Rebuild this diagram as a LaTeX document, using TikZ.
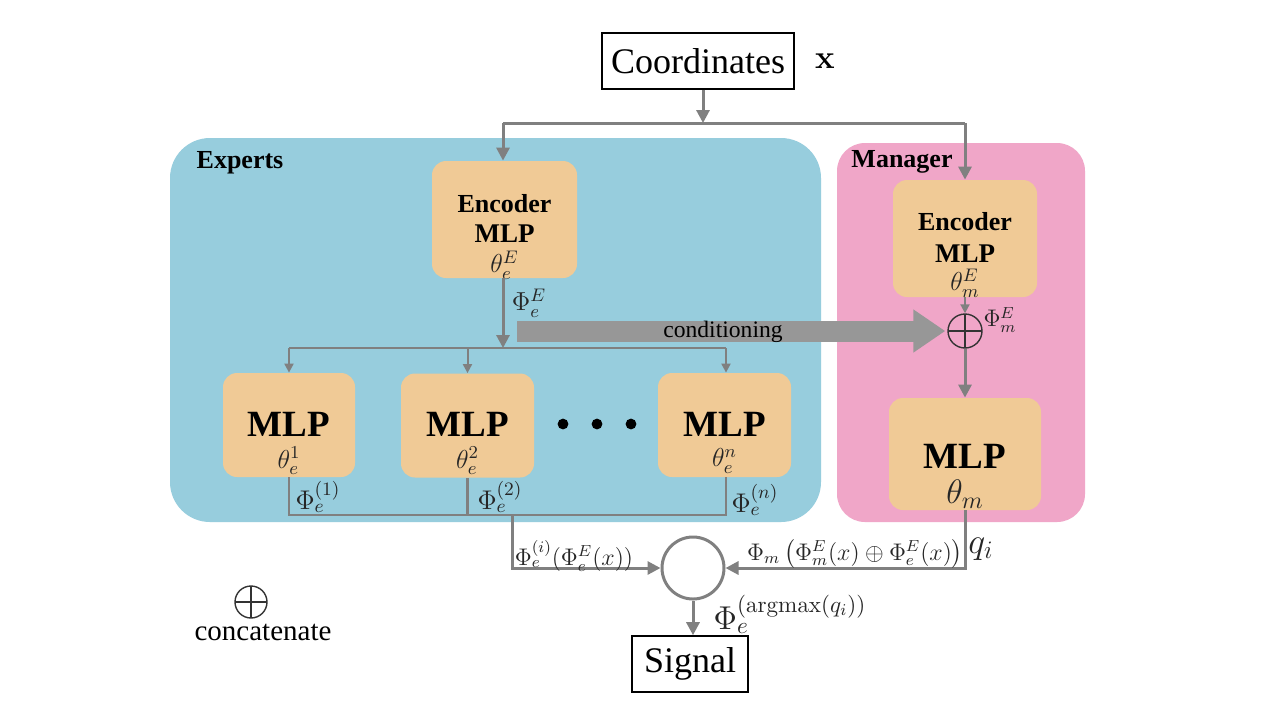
\RequirePackage{fix-cm}
\documentclass[tikz,border=0pt]{standalone}
\usepackage[no-math]{fontspec}
\setmainfont{Liberation Serif}
\usepackage{amsmath}
\usetikzlibrary{arrows.meta}
\definecolor{expbg}{HTML}{97CDDD}
\definecolor{mgrbg}{HTML}{F0A6C8}
\definecolor{boxc}{HTML}{F0CA96}
\definecolor{lin}{HTML}{808080}
\definecolor{condc}{HTML}{979797}
\newcommand{\myfs}[1]{\fontsize{#1}{#1}\selectfont}
\tikzset{
  obox/.style={fill=boxc, rounded corners=7pt, inner sep=0pt},
  framebox/.style={draw=black, line width=0.8pt, inner sep=0pt},
  ln/.style={draw=lin, line width=1.5pt},
  thinln/.style={draw=lin, line width=1.2pt},
  conn/.style={draw=lin, line width=1.5pt, -{Triangle[width=6.5pt,length=6.5pt]}},
  thinconn/.style={draw=lin, line width=1pt, -{Triangle[width=4.5pt,length=4.5pt]}},
  opl/.style={circle, draw=black!80, line width=0.7pt, inner sep=0pt,
    path picture={\draw[black!80, line width=0.7pt]
      (path picture bounding box.north) -- (path picture bounding box.south)
      (path picture bounding box.west) -- (path picture bounding box.east);}},
  mtxt/.style={text=black!85, inner sep=0pt},
}
\begin{document}
\begin{tikzpicture}[x=0.5pt,y=-0.5pt]
\fill[white] (0,0) rectangle (1280,720);
\useasboundingbox (0,0) rectangle (1280,720);
% background panels
\fill[expbg, rounded corners=20pt] (170,138) rectangle (821,522);
\fill[mgrbg, rounded corners=14pt] (837,143) rectangle (1085,522);
\node[inner sep=0pt, font=\bfseries\myfs{13}] (experts) at (240,163) {Experts};
\node[inner sep=0pt, font=\bfseries\myfs{13}] (manager) at (902,162) {Manager};

% top
\node[framebox, minimum width=96pt, minimum height=28pt, font=\myfs{18}] (coord) at (698,61) {Coordinates};
\node[inner sep=0pt, font=\myfs{16.5}] (xlab) at (825,61) {$\mathbf{x}$};
\coordinate (split) at (703,123);
\coordinate (tl) at (503,123);
\coordinate (tr) at (965,123);

% experts encoder
\node[obox, minimum width=72.5pt, minimum height=58.5pt] (encE) at (504.5,219.5) {};
\node[inner sep=0pt, font=\bfseries\myfs{13}] (encEa) at (504.5,204) {Encoder};
\node[inner sep=0pt, font=\bfseries\myfs{13.5}] (encEb) at (504.5,234) {MLP};
\node[mtxt, font=\myfs{13}] (encEc) at (504.5,265) {$\theta_e^E$};

% manager encoder
\node[obox, minimum width=72pt, minimum height=58.5pt] (encM) at (965,238.5) {};
\node[inner sep=0pt, font=\bfseries\myfs{13}] (encMa) at (965,222) {Encoder};
\node[inner sep=0pt, font=\bfseries\myfs{13.5}] (encMb) at (965,254) {MLP};
\node[mtxt, font=\myfs{13}] (encMc) at (965,283) {$\theta_m^E$};

% manager concat and MLP
\node[opl, minimum size=17pt] (oplM) at (965,331) {};
\node[mtxt, font=\myfs{12}] (phimE) at (1000,320) {$\Phi_m^E$};
\node[obox, minimum width=76pt, minimum height=56pt] (mlpM) at (965,454) {};
\node[inner sep=0pt, font=\bfseries\myfs{18.5}] (mlpMa) at (965,456) {MLP};
\node[mtxt, font=\myfs{17}] (mlpMb) at (965,494) {$\theta_m$};

% expert MLPs
\node[obox, minimum width=66pt, minimum height=52pt] (mlp1) at (289,425) {};
\node[inner sep=0pt, font=\bfseries\myfs{18.5}] (mlp1a) at (289,424) {MLP};
\node[mtxt, font=\myfs{13}] (mlp1b) at (289,461) {$\theta_e^1$};
\node[obox, minimum width=66.5pt, minimum height=52pt] (mlp2) at (467.5,425.5) {};
\node[inner sep=0pt, font=\bfseries\myfs{18.5}] (mlp2a) at (467.5,424) {MLP};
\node[mtxt, font=\myfs{13}] (mlp2b) at (467.5,461) {$\theta_e^2$};
\node[obox, minimum width=66.5pt, minimum height=52pt] (mlpn) at (724.5,425) {};
\node[inner sep=0pt, font=\bfseries\myfs{18.5}] (mlpna) at (724.5,424) {MLP};
\node[mtxt, font=\myfs{13}] (mlpnb) at (724.5,461) {$\theta_e^n$};
\fill (563,424) circle (2.7pt);
\fill (597,424) circle (2.7pt);
\fill (631,424) circle (2.7pt);

% coordinates for routing
\coordinate (dist) at (503,348);
\coordinate (d1) at (289,348);
\coordinate (d2) at (467.5,348);
\coordinate (dn) at (726,348);
\coordinate (b1) at (289,515);
\coordinate (bn) at (726,515);
\coordinate (bmid) at (512,515);
\coordinate (lowL) at (512,568);
\coordinate (lowR) at (965,568);
\coordinate (condStart) at (517,331);

% gate and signal
\node[circle, draw=lin, line width=1.5pt, minimum size=31pt, inner sep=0pt] (gate) at (693,568) {};
\node[framebox, minimum width=58pt, minimum height=28pt, font=\myfs{18}] (sig) at (690,664) {Signal};

% connectors top
\draw[conn] (split |- coord.south) -- (split);
\draw[ln] (tl) -- (tr);
\draw[conn] (tl) -- (tl |- encE.north);
\draw[conn] (tr) -- (tr |- encM.north);
\draw[conn] (tl |- encE.south) -- (dist);
\node[mtxt, font=\myfs{13}] (phiE) at (529,303) {$\Phi_e^E$};

% conditioning
\draw[draw=condc, line width=10.5pt, -{Triangle[width=20.5pt,length=16pt]}, shorten >=1pt] (condStart) -- (oplM.west);
\node[inner sep=0pt, font=\myfs{11.8}] (condt) at (723,332) {conditioning};

% distribution
\draw[thinln] (d1) -- (dn);
\draw[thinconn] (d1) -- (mlp1.north);
\draw[thinconn] (d2) -- (mlp2.north);
\draw[thinconn] (dn) -- (dn |- mlpn.north);

% expert outputs
\draw[thinln] (mlp1.south) -- (b1) -- (bn) -- (bn |- mlpn.south);
\draw[thinln] (mlp2.south) -- (mlp2.south |- b1);
\node[mtxt, font=\myfs{13.5}] (phi1) at (318,497) {$\Phi_e^{(1)}$};
\node[mtxt, font=\myfs{13.5}] (phi2) at (500,497) {$\Phi_e^{(2)}$};
\node[mtxt, font=\myfs{13.5}] (phin) at (755,500) {$\Phi_e^{(n)}$};

% manager flow
\draw[thinconn] (encM.south) -- (oplM.north);
\draw[conn] (oplM.south) -- (mlpM.north);

% into gate
\draw[conn] (bmid) -- (lowL) -- (gate.west);
\draw[conn] (mlpM.south) -- (lowR) -- (gate.east);
\node[mtxt, font=\myfs{12}] (lblL) at (574,556) {$\Phi_e^{(i)}(\Phi_e^E(x))$};
\node[mtxt, font=\myfs{12}] (lblR) at (855,554) {$\Phi_m\,\big(\Phi_m^E(x)\oplus\Phi_e^E(x)\big)$};
\node[mtxt, font=\myfs{18}] (qi) at (981,549) {$q_i$};

% output
\draw[conn] (gate.south) -- (gate.south |- sig.north);
\node[mtxt, font=\myfs{16.5}] (phiarg) at (790,614) {$\Phi_e^{(\mathrm{argmax}(q_i))}$};

% legend
\node[opl, minimum size=16pt] (oplL) at (251,602) {};
\node[inner sep=0pt, font=\myfs{14.5}] (concat) at (263,632) {concatenate};
\end{tikzpicture}
\end{document}
